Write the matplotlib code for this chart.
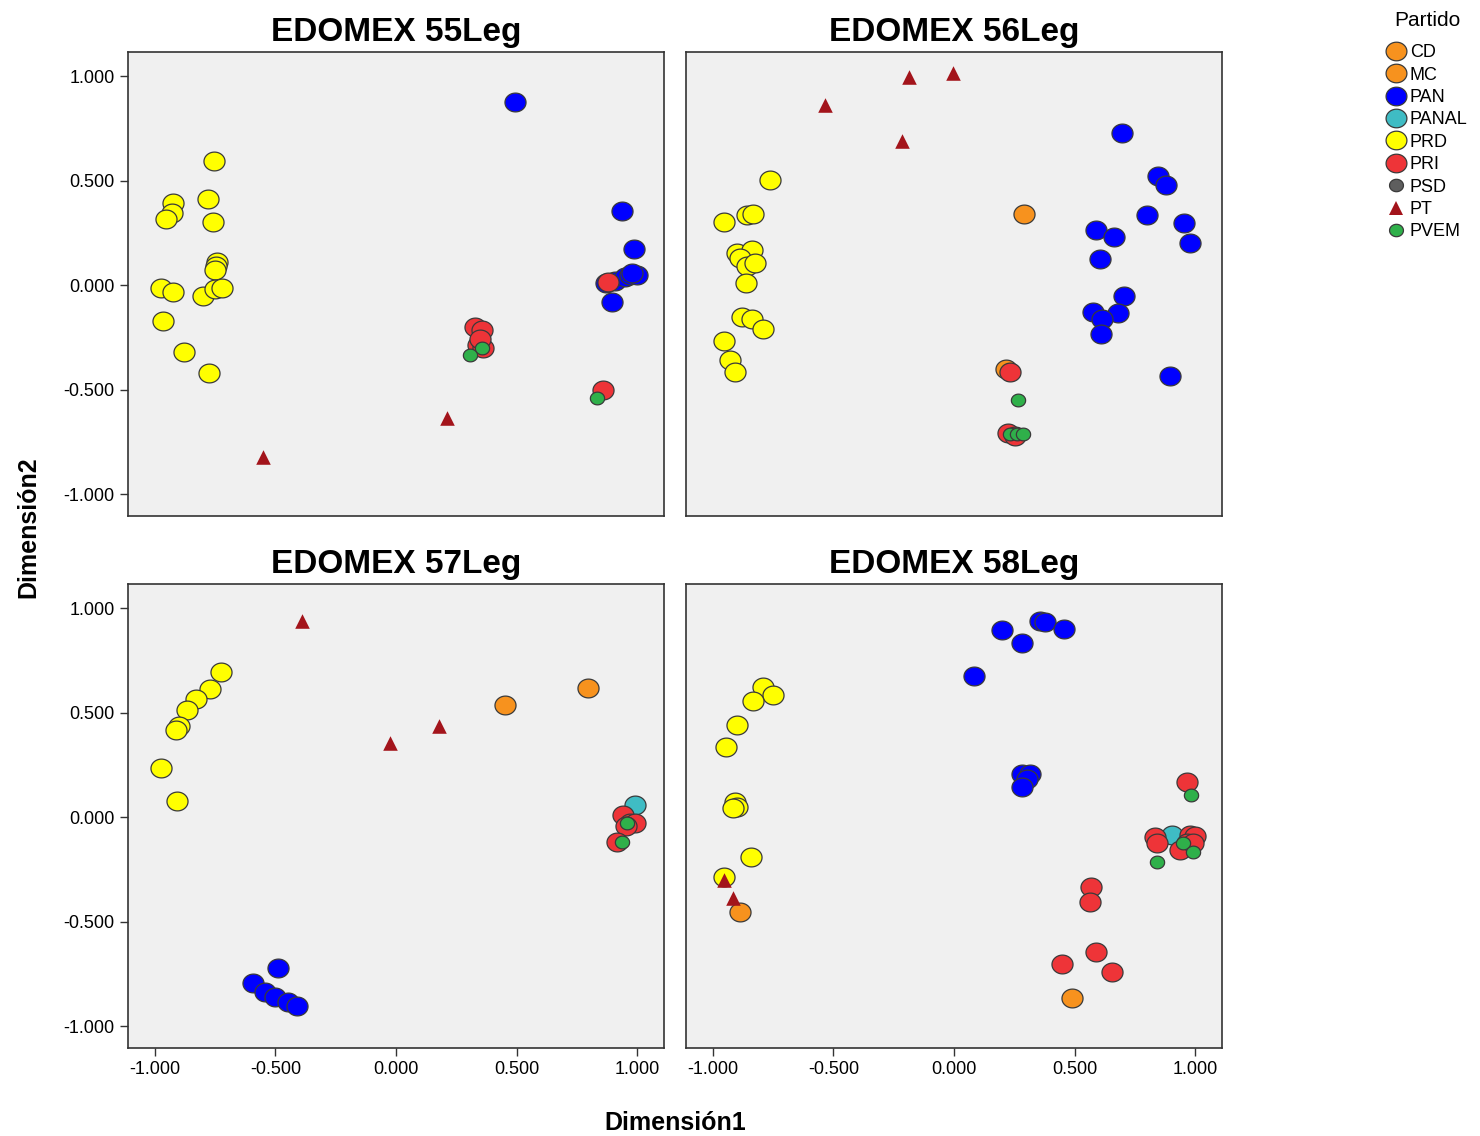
import numpy as np
import matplotlib
matplotlib.use("Agg")
import matplotlib.pyplot as plt
from matplotlib.path import Path
from matplotlib.lines import Line2D

plt.rcParams['font.family'] = ['Liberation Sans', 'DejaVu Sans']

# --- data (Dimension1, Dimension2) ---
titles = ['EDOMEX 55Leg', 'EDOMEX 56Leg', 'EDOMEX 57Leg', 'EDOMEX 58Leg']
parties = ['CD', 'MC', 'PAN', 'PANAL', 'PRD', 'PRI', 'PSD', 'PT', 'PVEM']
colors = {'CD': '#F7921E', 'MC': '#F7921E', 'PAN': '#0000FF', 'PANAL': '#3FBCC4',
          'PRD': '#FFFF00', 'PRI': '#EE3438', 'PSD': '#5E5E5E', 'PT': '#A3141B',
          'PVEM': '#2FB04A'}

# 55Leg
l55_pan = [(0.494, 0.876), (0.938, 0.354), (0.988, 0.172), (0.896, -0.081),
           (0.87, 0.01), (0.91, 0.02), (0.95, 0.04), (0.97, 0.05), (1.0, 0.05), (0.98, 0.06)]
l55_prd = [(-0.755, 0.593), (-0.780, 0.411), (-0.759, 0.301), (-0.925, 0.392), (-0.929, 0.344),
           (-0.954, 0.316), (-0.743, 0.110), (-0.747, 0.091), (-0.751, 0.072), (-0.975, -0.014),
           (-0.925, -0.033), (-0.801, -0.053), (-0.751, -0.019), (-0.722, -0.014),
           (-0.967, -0.172), (-0.880, -0.321), (-0.776, -0.421)]
l55_pri = [(0.88, 0.014), (0.328, -0.20), (0.357, -0.215), (0.34, -0.287), (0.36, -0.30),
           (0.35, -0.26), (0.859, -0.502)]
l55_pt = [(-0.552, -0.823), (0.212, -0.636)]
l55_pvem = [(0.307, -0.335), (0.357, -0.30), (0.834, -0.54)]

# 56Leg
l56_cd = [(0.290, 0.340), (0.216, -0.402)]
l56_pan = [(0.697, 0.727), (0.846, 0.522), (0.880, 0.478), (0.801, 0.335), (0.954, 0.297),
           (0.979, 0.201), (0.589, 0.263), (0.664, 0.230), (0.606, 0.124), (0.705, -0.053),
           (0.577, -0.129), (0.680, -0.134), (0.614, -0.163), (0.610, -0.234), (0.896, -0.435)]
l56_prd = [(-0.763, 0.502), (-0.954, 0.301), (-0.859, 0.335), (-0.834, 0.340), (-0.900, 0.153),
           (-0.838, 0.167), (-0.888, 0.129), (-0.859, 0.091), (-0.826, 0.105), (-0.863, 0.010),
           (-0.880, -0.153), (-0.838, -0.163), (-0.793, -0.211), (-0.954, -0.268),
           (-0.929, -0.359), (-0.909, -0.416)]
l56_pri = [(0.232, -0.416), (0.224, -0.708), (0.253, -0.722)]
l56_pt = [(-0.535, 0.861), (-0.187, 0.995), (-0.004, 1.014), (-0.216, 0.689)]
l56_pvem = [(0.266, -0.550), (0.232, -0.713), (0.261, -0.713), (0.286, -0.713)]

# 57Leg
l57_cd = [(0.452, 0.536), (0.797, 0.617)]
l57_pan = [(-0.490, -0.722), (-0.593, -0.794), (-0.544, -0.837), (-0.502, -0.861),
           (-0.448, -0.885), (-0.411, -0.904)]
l57_panal = [(0.992, 0.057)]
l57_prd = [(-0.726, 0.694), (-0.772, 0.612), (-0.830, 0.565), (-0.867, 0.512), (-0.900, 0.435),
           (-0.913, 0.416), (-0.975, 0.234), (-0.909, 0.077)]
l57_pri = [(0.942, 0.010), (0.971, -0.029), (0.992, -0.029), (0.955, -0.045), (0.917, -0.120)]
l57_pt = [(-0.390, 0.938), (-0.025, 0.354), (0.178, 0.435)]
l57_pvem = [(0.958, -0.029), (0.938, -0.120)]

# 58Leg
l58_mc = [(-0.888, -0.455), (0.490, -0.866)]
l58_pan = [(0.083, 0.675), (0.199, 0.895), (0.282, 0.833), (0.357, 0.938), (0.378, 0.933),
           (0.456, 0.900), (0.282, 0.206), (0.315, 0.206), (0.303, 0.182), (0.282, 0.144)]
l58_panal = [(0.905, -0.086)]
l58_prd = [(-0.793, 0.622), (-0.751, 0.584), (-0.834, 0.555), (-0.900, 0.440), (-0.946, 0.335),
           (-0.909, 0.072), (-0.900, 0.048), (-0.917, 0.043), (-0.842, -0.191), (-0.954, -0.287)]
l58_pri = [(0.568, -0.335), (0.564, -0.407), (0.448, -0.703), (0.589, -0.646), (0.656, -0.742),
           (0.967, 0.167), (0.834, -0.096), (0.842, -0.124), (0.979, -0.086), (1.0, -0.091),
           (0.967, -0.124), (0.938, -0.158), (0.99, -0.124)]
l58_pt = [(-0.954, -0.301), (-0.917, -0.388)]
l58_pvem = [(0.983, 0.105), (0.950, -0.124), (0.992, -0.167), (0.842, -0.215)]

panels = [
    {'PAN': l55_pan, 'PRD': l55_prd, 'PRI': l55_pri, 'PT': l55_pt, 'PVEM': l55_pvem},
    {'CD': l56_cd, 'PAN': l56_pan, 'PRD': l56_prd, 'PRI': l56_pri, 'PT': l56_pt, 'PVEM': l56_pvem},
    {'CD': l57_cd, 'PAN': l57_pan, 'PANAL': l57_panal, 'PRD': l57_prd, 'PRI': l57_pri,
     'PT': l57_pt, 'PVEM': l57_pvem},
    {'MC': l58_mc, 'PAN': l58_pan, 'PANAL': l58_panal, 'PRD': l58_prd, 'PRI': l58_pri,
     'PT': l58_pt, 'PVEM': l58_pvem},
]

ticks = [-1.0, -0.5, 0.0, 0.5, 1.0]

# slightly wide ellipse marker like the SPSS output
t = np.linspace(0, 2 * np.pi, 60)
ellipse = Path(np.column_stack([1.12 * np.cos(t), np.sin(t)]), closed=True)

big = 230
small = 105
edge = '#3a3a3a'

fig = plt.figure(figsize=(14.8, 11.36), dpi=100)
lefts = [128 / 1480, 686 / 1480]
bottoms = [1 - 516 / 1136, 1 - 1048 / 1136]
w = 536 / 1480
h = 464 / 1136

for i, data in enumerate(panels):
    r, c = divmod(i, 2)
    ax = fig.add_axes([lefts[c], bottoms[r], w, h])
    ax.set_facecolor('#F0F0F0')
    for p in parties:
        if p not in data:
            continue
        pts = np.array(data[p])
        if p == 'PT':
            ax.scatter(pts[:, 0], pts[:, 1], s=110, marker='^', color=colors[p],
                       linewidths=0, zorder=3)
        elif p in ('PVEM', 'PSD'):
            ax.scatter(pts[:, 0], pts[:, 1], s=small, marker=ellipse, facecolor=colors[p],
                       edgecolor=edge, linewidths=0.9, zorder=3)
        else:
            ax.scatter(pts[:, 0], pts[:, 1], s=big, marker=ellipse, facecolor=colors[p],
                       edgecolor=edge, linewidths=0.9, zorder=3)
    ax.set_xlim(-1.112, 1.112)
    ax.set_ylim(-1.105, 1.115)
    ax.set_xticks(ticks)
    ax.set_yticks(ticks)
    ax.set_xticklabels([f'{v:.3f}' for v in ticks])
    ax.set_yticklabels([f'{v:.3f}' for v in ticks])
    ax.tick_params(direction='out', length=6, width=1, labelsize=13, color='#333333')
    if r == 0:
        ax.tick_params(axis='x', bottom=False, labelbottom=False)
    if c == 1:
        ax.tick_params(axis='y', left=False, labelleft=False)
    for s in ax.spines.values():
        s.set_color('#333333')
        s.set_linewidth(1.2)
    ax.set_title(titles[i], fontsize=24, fontweight='bold', pad=8)

fig.text(675 / 1480, 1 - 1123 / 1136, 'Dimensión1', ha='center', va='center',
         fontsize=18, fontweight='bold')
fig.text(28 / 1480, 1 - 527 / 1136, 'Dimensión2', ha='center', va='center',
         rotation=90, fontsize=18, fontweight='bold')

handles = []
for p in parties:
    if p == 'PT':
        handles.append(Line2D([], [], ls='none', marker='^', markersize=10,
                              color=colors[p], markeredgewidth=0))
    elif p in ('PVEM', 'PSD'):
        handles.append(Line2D([], [], ls='none', marker=ellipse, markersize=10,
                              markerfacecolor=colors[p], markeredgecolor=edge, markeredgewidth=0.9))
    else:
        handles.append(Line2D([], [], ls='none', marker=ellipse, markersize=15,
                              markerfacecolor=colors[p], markeredgecolor=edge, markeredgewidth=0.9))
leg = fig.legend(handles, parties, title='Partido', loc='upper left',
                 bbox_to_anchor=(1380 / 1480, 1 - 4 / 1136), frameon=False,
                 fontsize=13, title_fontsize=15, handlelength=1.0, handletextpad=0.25,
                 labelspacing=0.3, borderaxespad=0)
leg._legend_box.sep = 10

fig.savefig('out.png', dpi=100)
